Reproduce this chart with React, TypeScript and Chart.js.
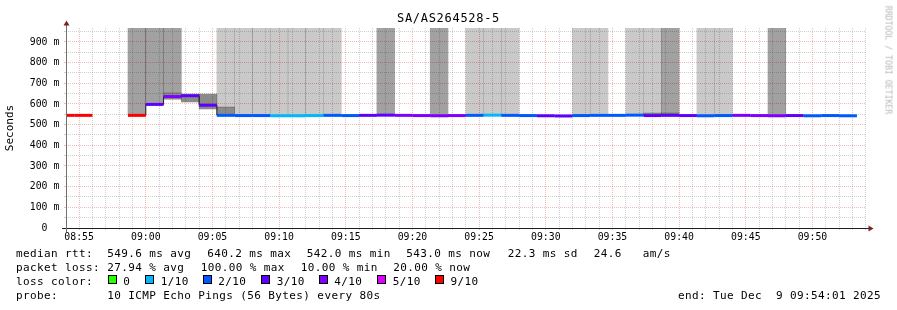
import React, { useEffect, useRef } from 'react';
import { Chart, registerables } from 'chart.js';

Chart.register(...registerables);

// ---------- data ----------
const TITLE = 'SA/AS264528-5';
const VIEW_START = '08:54:01';
const VIEW_END = '09:54:01';
const FIRST_STEP = '08:53:20';
const STEP_SECONDS = 80;
const Y_MAX_MS = 967.7;

// median rtt per 80 s step (ms), null = 100% loss
const medianMs: (number | null)[] = [
  545, 545, null, null, 545, 598, 636, 640, 594,
  545, 544, 544, 543, 543, 544, 545, 544, 545, 546, 545, 544, 543, 544,
  545, 546, 545, 544, 543, 542, 544, 545, 545, 546, 544, 545, 544, 543,
  544, 545, 544, 543, 544, 543, 544, 543,
];
// lost pings out of 10 per step
const lossOf10 = [
  9, 9, 10, 10, 9, 3, 4, 3, 3,
  2, 2, 2, 1, 1, 1, 2, 2, 3, 3, 4, 4, 4, 4,
  2, 1, 2, 2, 3, 3, 2, 2, 2, 2, 3, 3, 3, 2,
  2, 4, 4, 4, 3, 2, 2, 2,
];
// upper smoke shade per step: 0 none, 1 light, 2 dark (reaches graph top)
const lossBand = [
  0, 0, 0, 0, 2, 2, 2, 0, 0,
  1, 1, 1, 1, 1, 1, 1, 0, 0, 2, 0, 0, 2, 0,
  1, 1, 1, 0, 0, 0, 1, 1, 0, 1, 1, 2, 0, 1,
  1, 0, 0, 2, 0, 0, 0, 0,
];
// smoke around the median (ms)
const smokeLowMs: (number | null)[] = [
  null, null, null, null, null, null, 623, 610, 576,
  548, null, null, null, null, null, null, null, null, null, null, null, null, null,
  null, null, null, null, null, null, null, null, null, null, 545, 545, null, null,
  null, null, null, null, null, null, null, null,
];
const smokeHighMs: (number | null)[] = [
  null, null, null, null, null, null, 653, 648, 648,
  585, null, null, null, null, null, null, null, null, null, null, null, null, null,
  null, null, null, null, null, null, null, null, null, null, 556, 556, null, null,
  null, null, null, null, null, null, null, null,
];

const lossLegend = [
  { label: '0', count: 0, color: '#26ff00' },
  { label: '1/10', count: 1, color: '#00b8ff' },
  { label: '2/10', count: 2, color: '#0059ff' },
  { label: '3/10', count: 3, color: '#5e00ff' },
  { label: '4/10', count: 4, color: '#7e00ff' },
  { label: '5/10', count: 5, color: '#dd00ff' },
  { label: '9/10', count: 9, color: '#ff0000' },
];

const rttLine = ['median rtt:', '549.6 ms avg', '640.2 ms max', '542.0 ms min', '543.0 ms now', '22.3 ms sd', '24.6   am/s'];
const lossLine = ['packet loss:', '27.94 % avg', '100.00 % max', '10.00 % min', '20.00 % now'];
const probeLine = ['probe:', '10 ICMP Echo Pings (56 Bytes) every 80s'];
const endText = 'end: Tue Dec  9 09:54:01 2025';
const watermark = 'RRDTOOL / TOBI OETIKER';

// ---------- layout / style ----------
const FONT = "'DejaVu Sans Mono', monospace";
const GRID_MINOR = 'rgba(143,143,143,0.42)';
const GRID_MAJOR = 'rgba(222,79,79,0.4)';
const BAND_DARK = 'rgba(0,0,0,0.37)';
const BAND_LIGHT = 'rgba(0,0,0,0.21)';
const SMOKE = 'rgba(0,0,0,0.46)';
const rttX = [16, 107.3, 207.3, 306.7, 406.3, 507.7, 593.7];
const lossX = [16, 107.3, 200.7, 300.7, 393.3];
const legendTextX = [123.3, 160.7, 218.3, 276.7, 334.3, 392.7, 450.5];
const ROW_BASE = [258.3, 272.3, 286.0, 300.3];

const toSec = (t: string) => {
  const [h, m, s] = t.split(':').map(Number);
  return h * 3600 + m * 60 + s;
};
const hhmm = (v: number) => {
  const h = Math.floor(v / 3600);
  const m = Math.floor((v % 3600) / 60);
  return `${String(h).padStart(2, '0')}:${String(m).padStart(2, '0')}`;
};
const colorForLoss = (n: number) => {
  let c = lossLegend[0].color;
  for (const e of lossLegend) if (n >= e.count) c = e.color;
  return c;
};

const axisPlugin = {
  id: 'rrdAxes',
  afterDraw(chart: any) {
    const { ctx, chartArea: a } = chart;
    const y0 = Math.round(a.bottom) + 0.5;
    const x0 = Math.round(a.left) + 0.5;
    ctx.save();
    ctx.lineWidth = 1;
    ctx.strokeStyle = '#1f1f1f';
    ctx.beginPath();
    ctx.moveTo(a.left - 4, y0);
    ctx.lineTo(a.right + 3, y0);
    ctx.stroke();
    ctx.strokeStyle = '#707070';
    ctx.beginPath();
    ctx.moveTo(x0, a.bottom + 4);
    ctx.lineTo(x0, a.top - 3);
    ctx.stroke();
    ctx.fillStyle = '#801f1f';
    ctx.beginPath();
    ctx.moveTo(a.right + 7.5, y0);
    ctx.lineTo(a.right + 2.5, y0 - 3);
    ctx.lineTo(a.right + 2.5, y0 + 3);
    ctx.closePath();
    ctx.fill();
    ctx.beginPath();
    ctx.moveTo(x0, a.top - 7.5);
    ctx.lineTo(x0 - 3, a.top - 2.5);
    ctx.lineTo(x0 + 3, a.top - 2.5);
    ctx.closePath();
    ctx.fill();
    ctx.restore();
  },
};

function Txt(props: { x: number; base: number; size: number; text: string; ls?: number; align?: string; color?: string }) {
  const { x, base, size, text, ls = 0, align = 'left', color = '#000' } = props;
  const style: any = {
    position: 'absolute',
    top: base - 0.928 * size,
    fontFamily: FONT,
    fontSize: size,
    lineHeight: `${1.164 * size}px`,
    letterSpacing: ls,
    whiteSpace: 'pre',
    color,
  };
  if (align === 'right') style.right = 897 - x;
  else if (align === 'center') {
    style.left = x;
    style.transform = 'translateX(-50%)';
  } else style.left = x;
  return <div style={style}>{text}</div>;
}

export default function App() {
  const ref = useRef<HTMLCanvasElement | null>(null);

  useEffect(() => {
    const t0 = toSec(FIRST_STEP);
    const starts = medianMs.map((_, i) => t0 + i * STEP_SECONDS);
    const centers = starts.map((s) => s + STEP_SECONDS / 2);
    const floorOf = (i: number) => (smokeHighMs[i] != null ? smokeHighMs[i] : medianMs[i]);

    const darkBand = centers.map((x, i) => ({ x, y: lossBand[i] === 2 ? [floorOf(i), Y_MAX_MS] : null }));
    const lightBand = centers.map((x, i) => ({ x, y: lossBand[i] === 1 ? [floorOf(i), Y_MAX_MS] : null }));
    const smoke = centers.map((x, i) => ({ x, y: smokeLowMs[i] != null ? [smokeLowMs[i], smokeHighMs[i]] : null }));

    const medPts: any[] = [];
    const medLoss: number[] = [];
    medianMs.forEach((m, i) => {
      if (m == null) return;
      medPts.push({ x: starts[i], y: m }, { x: starts[i] + STEP_SECONDS, y: m });
      medLoss.push(lossOf10[i], -1);
    });
    const stepPts: any[] = medianMs.map((m, i) => ({ x: starts[i], y: m }));
    const last = medianMs.length - 1;
    stepPts.push({ x: starts[last] + STEP_SECONDS, y: medianMs[last] });

    const barCommon = {
      type: 'bar' as const,
      stack: 'steps',
      barThickness: 'flex' as const,
      categoryPercentage: 1,
      barPercentage: 1,
      borderWidth: 0,
    };
    const fillIf = (col: string) => (c: any) => (c.raw && c.raw.y ? col : 'rgba(0,0,0,0)');

    const chart = new Chart(ref.current as HTMLCanvasElement, {
      type: 'bar',
      data: {
        datasets: [
          { label: 'median', type: 'line', data: medPts, order: 0, borderWidth: 3, pointRadius: 0, borderCapStyle: 'butt', borderColor: '#0059ff', clip: 0,
            segment: { borderColor: (c: any) => (medLoss[c.p0DataIndex] >= 0 ? colorForLoss(medLoss[c.p0DataIndex]) : 'rgba(0,0,0,0)') } } as any,
          { label: 'step', type: 'line', data: stepPts, order: 1, borderWidth: 1, pointRadius: 0, borderColor: '#202020', stepped: 'before', clip: 0, spanGaps: false } as any,
          { ...barCommon, label: 'smoke', data: smoke, order: 2, backgroundColor: fillIf(SMOKE) } as any,
          { ...barCommon, label: 'dark', data: darkBand, order: 3, backgroundColor: fillIf(BAND_DARK) } as any,
          { ...barCommon, label: 'light', data: lightBand, order: 4, backgroundColor: fillIf(BAND_LIGHT) } as any,
        ],
      },
      options: {
        responsive: false,
        animation: false,
        events: [],
        layout: { padding: { left: 0, top: 28, right: 31, bottom: 62 } },
        plugins: { legend: { display: false }, title: { display: false }, tooltip: { enabled: false } },
        scales: {
          x: {
            type: 'linear',
            min: toSec(VIEW_START),
            max: toSec(VIEW_END),
            offset: false,
            afterBuildTicks: (s: any) => {
              const t: any[] = [];
              for (let v = Math.ceil(s.min / 60) * 60; v <= s.max; v += 60) t.push({ value: v });
              s.ticks = t;
            },
            ticks: {
              autoSkip: false,
              maxRotation: 0,
              padding: 2,
              color: '#000',
              font: { family: FONT, size: 9.8 },
              callback: (v: any) => (Number(v) % 300 === 0 ? hhmm(Number(v)) : ''),
            },
            grid: {
              offset: false,
              z: 0,
              tickLength: 2,
              color: (c: any) => (c.tick && c.tick.value % 300 === 0 ? GRID_MAJOR : GRID_MINOR),
            },
            border: { display: false, dash: [1, 1] },
            afterFit: (s: any) => {
              s.height = 20;
            },
          },
          y: {
            min: 0,
            max: Y_MAX_MS,
            stacked: false,
            afterBuildTicks: (s: any) => {
              const t: any[] = [];
              for (let v = 0; v <= s.max; v += 50) t.push({ value: v });
              s.ticks = t;
            },
            ticks: {
              autoSkip: false,
              padding: 4.7,
              color: '#000',
              font: { family: FONT, size: 9.8 },
              callback: (v: any) => {
                const n = Number(v);
                if (n % 100 !== 0) return '';
                return n === 0 ? '0  ' : `${n} m`;
              },
            },
            grid: {
              z: 0,
              tickLength: 2,
              color: (c: any) => (c.tick && c.tick.value % 100 === 0 ? GRID_MAJOR : GRID_MINOR),
            },
            border: { display: false, dash: [1, 1] },
            title: { display: true, text: 'Seconds', color: '#000', font: { family: FONT, size: 11 }, padding: { top: 4, bottom: 4 } },
            afterFit: (s: any) => {
              s.width = 66;
            },
          },
        },
      } as any,
      plugins: [axisPlugin],
    });
    return () => chart.destroy();
  }, []);

  const LS = 0.38;
  return (
    <div style={{ position: 'absolute', left: 0, top: 0, width: 897, height: 310, background: '#fff', overflow: 'hidden' }}>
      <canvas ref={ref} width={897} height={310} style={{ position: 'absolute', left: 0, top: 0, width: 897, height: 310 }} />
      <Txt x={448.5} base={23.3} size={12} ls={0.7} align="center" text={TITLE} />
      <div
        style={{
          position: 'absolute',
          left: 887.5,
          top: 59.5,
          transform: 'translate(-50%, -50%) rotate(90deg)',
          fontFamily: FONT,
          fontSize: 8.2,
          lineHeight: '9px',
          whiteSpace: 'pre',
          color: '#b8b8b8',
        }}
      >
        {watermark}
      </div>
      {rttLine.map((t, i) => (
        <Txt key={'r' + i} x={rttX[i]} base={ROW_BASE[0]} size={11} ls={LS} text={t} />
      ))}
      {lossLine.map((t, i) => (
        <Txt key={'l' + i} x={lossX[i]} base={ROW_BASE[1]} size={11} ls={LS} text={t} />
      ))}
      <Txt x={16} base={ROW_BASE[2]} size={11} ls={LS} text="loss color:" />
      {lossLegend.map((e, i) => (
        <React.Fragment key={'c' + i}>
          <div
            style={{
              position: 'absolute',
              left: Math.round(legendTextX[i] - 15.5),
              top: 275,
              width: 9,
              height: 9,
              boxSizing: 'border-box',
              border: '1px solid #000',
              background: e.color,
            }}
          />
          <Txt x={legendTextX[i]} base={ROW_BASE[2]} size={11} ls={LS} text={e.label} />
        </React.Fragment>
      ))}
      <Txt x={16} base={ROW_BASE[3]} size={11} ls={LS} text={probeLine[0]} />
      <Txt x={107.3} base={ROW_BASE[3]} size={11} ls={LS} text={probeLine[1]} />
      <Txt x={881} base={ROW_BASE[3]} size={11} ls={LS} align="right" text={endText} />
    </div>
  );
}
